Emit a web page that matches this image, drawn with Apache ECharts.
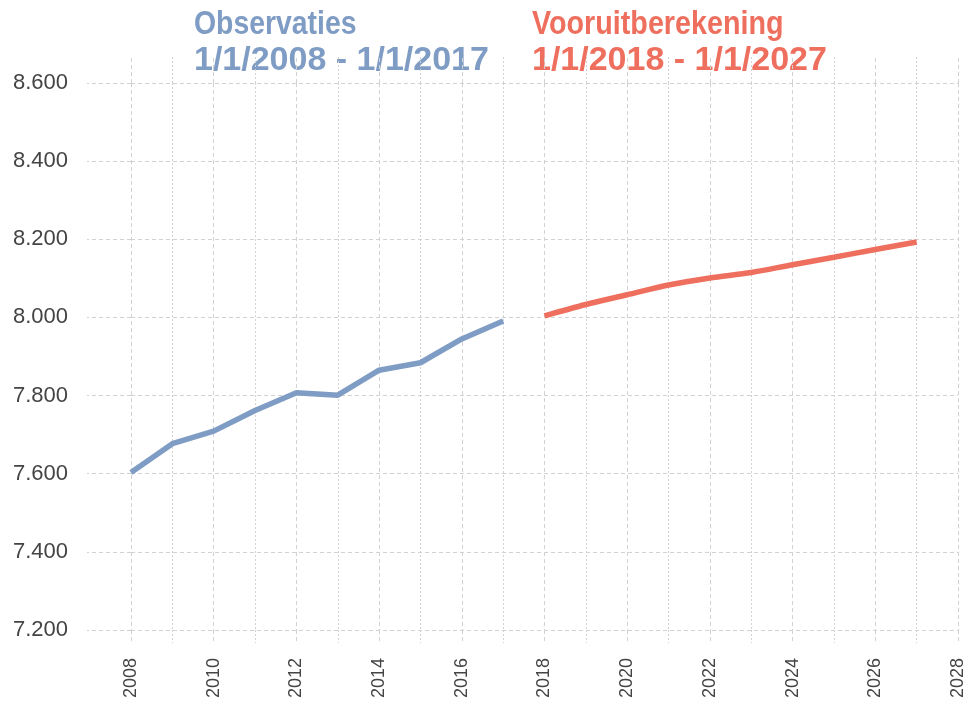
<!DOCTYPE html>
<html>
<head>
<meta charset="utf-8">
<script src="https://cdn.jsdelivr.net/npm/echarts@6/dist/echarts.min.js"></script>
<style>
  html, body { margin: 0; padding: 0; background: #fff; }
  #chart { width: 971px; height: 708px; }
</style>
</head>
<body>
<div id="chart"></div>
<script>
// observed values
const obsYears = [2008, 2009, 2010, 2011, 2012, 2013, 2014, 2015, 2016, 2017];
const obsValues = [7603, 7677, 7709, 7762, 7807, 7801, 7865, 7884, 7945, 7991];

// projection
const projYears = [2018, 2019, 2020, 2021, 2022, 2023, 2024, 2025, 2026, 2027];
const projValues = [8004, 8033, 8058, 8083, 8101, 8115, 8135, 8154, 8174, 8193];

const yTicks = [7200, 7400, 7600, 7800, 8000, 8200, 8400, 8600];

const blue = "#7F9DC4";
const red = "#EF6F5E";
const gridColor = "#d2d2d2";

const chart = echarts.init(document.getElementById("chart"));

const fmtThousands = (v) => {
  const s = String(Math.round(v));
  return s.replace(/\B(?=(\d{3})+(?!\d))/g, ".");
};

const dashed = { color: gridColor, width: 1, type: [4, 3] };
const dotted = { color: gridColor, width: 1, type: [2, 2] };

// narrow bold heading text
const heading = (text, x, y, color, size, sx) => ({
  type: "text",
  x: x,
  y: y,
  scaleX: sx,
  style: { text: text, fill: color, font: "bold " + size + "px 'Liberation Sans'" }
});

const option = {
  animation: false,
  grid: { left: 131, right: 13, top: 83, bottom: 78, containLabel: false },
  graphic: [
    heading("Observaties", 194, 8, blue, 33, 0.86),
    heading("1/1/2008 - 1/1/2017", 194, 44, blue, 34, 1.0),
    heading("Vooruitberekening", 532, 8, red, 33, 0.87),
    heading("1/1/2018 - 1/1/2027", 532, 44, red, 34, 1.0)
  ],
  xAxis: [
    {
      type: "value",
      min: 2008,
      max: 2028,
      interval: 2,
      axisLine: { show: false },
      axisTick: { show: true, length: 13, lineStyle: dashed },
      minorTick: { show: true, splitNumber: 2, length: 13, lineStyle: dotted },
      splitLine: { show: true, lineStyle: dashed },
      minorSplitLine: { show: true, lineStyle: dotted },
      axisLabel: {
        rotate: 90,
        margin: 28,
        color: "#444",
        fontSize: 18,
        fontFamily: "Liberation Sans",
        formatter: (v) => String(v)
      }
    },
    {
      type: "value",
      position: "top",
      min: 2008,
      max: 2028,
      interval: 2,
      axisLine: { show: false },
      axisTick: { show: true, length: 26, lineStyle: dashed },
      minorTick: { show: true, splitNumber: 2, length: 26, lineStyle: dotted },
      splitLine: { show: false },
      axisLabel: { show: false }
    }
  ],
  yAxis: {
    type: "value",
    min: yTicks[0],
    max: yTicks[yTicks.length - 1],
    interval: 200,
    axisLine: { show: false },
    axisTick: { show: true, length: 44, lineStyle: dashed },
    splitLine: { show: true, lineStyle: dashed },
    axisLabel: {
      margin: 63,
      color: "#444",
      fontSize: 22,
      fontFamily: "Liberation Sans",
      formatter: fmtThousands
    }
  },
  series: [
    {
      name: "Observaties",
      type: "line",
      data: obsYears.map((y, i) => [y, obsValues[i]]),
      showSymbol: false,
      lineStyle: { color: blue, width: 5.5 },
      itemStyle: { color: blue }
    },
    {
      name: "Vooruitberekening",
      type: "line",
      smooth: 0.3,
      data: projYears.map((y, i) => [y, projValues[i]]),
      showSymbol: false,
      lineStyle: { color: red, width: 5.5 },
      itemStyle: { color: red }
    }
  ]
};

chart.setOption(option);
</script>
</body>
</html>
